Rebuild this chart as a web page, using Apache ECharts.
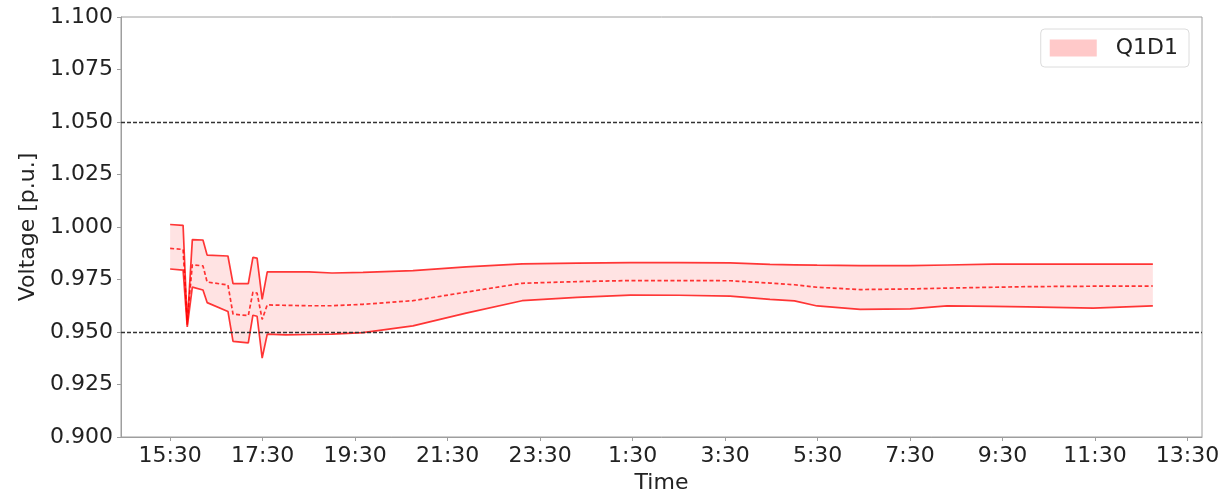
<!DOCTYPE html>
<html>
<head>
<meta charset="utf-8">
<script src="https://cdn.jsdelivr.net/npm/echarts@6/dist/echarts.min.js"></script>
<style>
html,body{margin:0;padding:0;background:#fff;}
#chart{width:1226px;height:493px;}
</style>
</head>
<body>
<div id="chart"></div>
<script>
// hours after 15:30
const times = [0, 0.28, 0.37, 0.48, 0.71, 0.80, 1.25, 1.36, 1.69, 1.79, 1.88, 1.99, 2.10,
  2.5, 3.0, 3.5, 4.17, 5.25, 6.4, 7.61, 8.8, 9.95, 11.0, 12.11, 12.97, 13.5, 13.99, 14.92,
  16.0, 16.8, 17.79, 18.53, 19.96, 21.25];
const upper = [1.0012, 1.0008, 0.9535, 0.9940, 0.9938, 0.9866, 0.9862, 0.9730, 0.9730, 0.9855, 0.9852, 0.9655, 0.9786,
  0.9786, 0.9786, 0.9781, 0.9784, 0.9792, 0.9810, 0.9824, 0.9828, 0.9830, 0.9830, 0.9829, 0.9822, 0.9820, 0.9818, 0.9816,
  0.9816, 0.9819, 0.9823, 0.9823, 0.9823, 0.9823];
const middle = [0.9898, 0.9893, 0.9555, 0.9820, 0.9815, 0.9738, 0.9724, 0.9585, 0.9578, 0.9690, 0.9685, 0.9560, 0.9629,
  0.9627, 0.9625, 0.9625, 0.9632, 0.9649, 0.9690, 0.9732, 0.9740, 0.9745, 0.9745, 0.9744, 0.9733, 0.9725, 0.9713, 0.9702,
  0.9705, 0.9709, 0.9713, 0.9716, 0.9718, 0.9719];
const lower = [0.9800, 0.9795, 0.9524, 0.9714, 0.9700, 0.9640, 0.9598, 0.9455, 0.9448, 0.9580, 0.9575, 0.9376, 0.9490,
  0.9486, 0.9488, 0.9490, 0.9497, 0.9529, 0.9590, 0.9649, 0.9665, 0.9676, 0.9675, 0.9671, 0.9655, 0.9648, 0.9624, 0.9608,
  0.9610, 0.9624, 0.9622, 0.9620, 0.9614, 0.9624];
const tickValues = [0, 2, 4, 6, 8, 10, 12, 14, 16, 18, 20, 22];
const tickLabels = ['15:30', '17:30', '19:30', '21:30', '23:30', '1:30', '3:30', '5:30', '7:30', '9:30', '11:30', '13:30'];
const limits = [1.05, 0.95];
const seriesName = 'Q1D1';

const FONT = 'DejaVu Sans';
const RED = 'rgba(255,0,0,0.78)';
const pair = (arr) => times.map((t, i) => [t, arr[i]]);

const chart = echarts.init(document.getElementById('chart'), null, {renderer: 'canvas'});
chart.setOption({
  animation: false,
  backgroundColor: '#fff',
  grid: {left: 121, right: 24, top: 17, bottom: 56, outerBoundsMode: 'none', containLabel: false,
    show: true, borderColor: '#9e9e9e', borderWidth: 1, backgroundColor: 'transparent'},
  legend: {
    right: 37, top: 29,
    orient: 'horizontal',
    padding: [8, 11, 8, 9],
    itemWidth: 47, itemHeight: 17,
    borderColor: '#dcdcdc', borderWidth: 1, borderRadius: 4,
    backgroundColor: 'rgba(255,255,255,0.8)',
    textStyle: {fontFamily: FONT, fontSize: 22, color: '#222', padding: [0, 0, 0, 14], lineHeight: 22},
    data: [{name: seriesName, icon: 'rect', itemStyle: {color: '#ffc9c9', borderWidth: 0}}]
  },
  xAxis: {
    type: 'value', min: -1.0625, max: 22.3125,
    name: 'Time', nameLocation: 'middle', nameGap: 33,
    nameTextStyle: {fontFamily: FONT, fontSize: 22, color: '#222'},
    axisLine: {show: true, onZero: false, lineStyle: {color: '#9e9e9e', width: 1}},
    axisTick: {show: true, length: 4, customValues: tickValues, lineStyle: {color: '#9e9e9e'}},
    axisLabel: {customValues: tickValues, margin: 8, fontFamily: FONT, fontSize: 22, color: '#222',
      formatter: (v) => { const i = tickValues.indexOf(Math.round(v)); return i >= 0 ? tickLabels[i] : ''; }},
    splitLine: {show: false}
  },
  yAxis: {
    type: 'value', min: 0.9, max: 1.1, interval: 0.025,
    name: 'Voltage [p.u.]', nameLocation: 'middle', nameGap: 79,
    nameTextStyle: {fontFamily: FONT, fontSize: 22, color: '#222'},
    axisLine: {show: true, onZero: false, lineStyle: {color: '#9e9e9e', width: 1}},
    axisTick: {show: true, length: 4, lineStyle: {color: '#9e9e9e'}},
    axisLabel: {margin: 8, fontFamily: FONT, fontSize: 22, color: '#222', formatter: (v) => v.toFixed(3)},
    splitLine: {show: false}
  },
  series: [
    {
      name: seriesName, type: 'custom', data: [0], z: 1,
      itemStyle: {color: '#ffc9c9'},
      renderItem: (params, api) => {
        const pts = [];
        for (let i = 0; i < times.length; i++) pts.push(api.coord([times[i], upper[i]]));
        for (let i = times.length - 1; i >= 0; i--) pts.push(api.coord([times[i], lower[i]]));
        return {type: 'polygon', shape: {points: pts}, style: {fill: 'rgba(255,0,0,0.11)', stroke: 'none'}};
      },
      markLine: {
        silent: true, symbol: 'none', label: {show: false},
        lineStyle: {color: '#333', type: [4, 2], width: 1.3},
        data: limits.map(v => ({yAxis: v}))
      }
    },
    {name: 'upper', type: 'line', data: pair(upper), symbol: 'none', lineStyle: {color: RED, width: 1.7}, z: 3},
    {name: 'middle', type: 'line', data: pair(middle), symbol: 'none', lineStyle: {color: RED, width: 1.7, type: [4, 2.5]}, z: 3},
    {name: 'lower', type: 'line', data: pair(lower), symbol: 'none', lineStyle: {color: RED, width: 1.7}, z: 3}
  ]
});
</script>
</body>
</html>
